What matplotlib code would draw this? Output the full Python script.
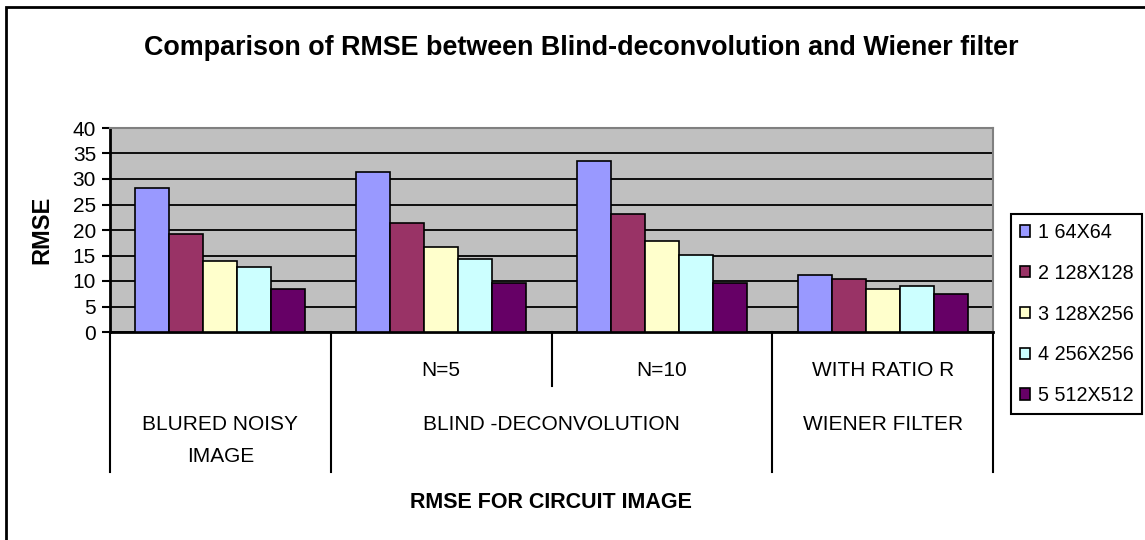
import numpy as np
import matplotlib
matplotlib.use("Agg")
from matplotlib import pyplot as plt
from matplotlib.patches import Rectangle
from matplotlib.transforms import blended_transform_factory

# ---------- Data ---------- #
series_names = ["1 64X64", "2 128X128", "3 128X256", "4 256X256", "5 512X512"]
inner_labels = ["", "N=5", "N=10", "WITH RATIO R"]
outer_labels = ["BLURED NOISY\nIMAGE", "BLIND -DECONVOLUTION", "WIENER FILTER"]
outer_spans = [(0, 0), (1, 2), (3, 3)]   # group index range covered by each outer label

size_64 = [28.3, 31.4, 33.6, 11.2]
size_128 = [19.3, 21.3, 23.2, 10.4]
size_128x256 = [13.9, 16.7, 17.9, 8.4]
size_256 = [12.7, 14.3, 15.1, 9.0]
size_512 = [8.5, 9.6, 9.6, 7.4]
values = [size_64, size_128, size_128x256, size_256, size_512]

colors = ["#9999FF", "#993366", "#FFFFCC", "#CCFFFF", "#660066"]

# ---------- Plotting ---------- #
plt.rcParams['font.family'] = ['Liberation Sans', 'DejaVu Sans']

fig = plt.figure(figsize=(11.45, 5.4), dpi=100)
ax = fig.add_axes([110/1145, 1-332/540, 883/1145, 204/540])
ax.set_facecolor("#C0C0C0")

n_groups = len(inner_labels)
n_series = len(series_names)
bar_w = 1.0 / (n_series + 1.5)
x = np.arange(n_groups)

for i in range(n_series):
    offset = (i - (n_series - 1) / 2) * bar_w
    ax.bar(x + offset, values[i], bar_w, color=colors[i], edgecolor="black",
           linewidth=1.2, label=series_names[i], zorder=3)

ax.set_xlim(-0.5, n_groups - 0.5)
ax.set_ylim(0, 40)
ax.set_yticks(np.arange(0, 41, 5))
ax.tick_params(axis='y', labelsize=15, length=6, width=1.5, direction='out', pad=4)
ax.set_xticks([])
ax.yaxis.grid(True, color="black", linewidth=1.3, zorder=1)
ax.set_axisbelow(True)

ax.spines['left'].set_linewidth(2)
ax.spines['bottom'].set_linewidth(2)
ax.spines['top'].set_color("#808080")
ax.spines['right'].set_color("#808080")
ax.spines['top'].set_linewidth(1.5)
ax.spines['right'].set_linewidth(1.5)

ax.set_ylabel("RMSE", fontsize=17, fontweight='bold')
ax.yaxis.set_label_coords(-0.064, 0.5)

# multi-level category axis
trans = blended_transform_factory(ax.transData, ax.transAxes)
long_y = -140/204
short_y = -54/204
for b in np.arange(-0.5, n_groups, 1.0):
    inside = any(s < b + 0.5 <= e for s, e in outer_spans)
    y_end = short_y if inside else long_y
    ax.plot([b, b], [0, y_end], color="black", lw=1.5, transform=trans, clip_on=False)

for i, lab in enumerate(inner_labels):
    ax.text(x[i], -38/204, lab, transform=trans, ha='center', va='center', fontsize=15)

for lab, (s, e) in zip(outer_labels, outer_spans):
    ax.text((s + e) / 2, -83/204, lab, transform=trans, ha='center', va='top',
            fontsize=15, linespacing=1.85)

fig.text(551/1145, 1-502/540, "RMSE FOR CIRCUIT IMAGE", ha='center', va='center',
         fontsize=15.5, fontweight='bold')
fig.text(581/1145, 1-48/540, "Comparison of RMSE between Blind-deconvolution and Wiener filter",
         ha='center', va='center', fontsize=19.4, fontweight='bold')

leg = fig.legend(loc='center left', bbox_to_anchor=(1011/1145, 1-314/540), fontsize=14.2,
                 handlelength=0.5, handleheight=0.5, handletextpad=0.4, labelspacing=1.1,
                 borderpad=0.45, fancybox=False, framealpha=1, edgecolor="black", borderaxespad=0)
leg.get_frame().set_linewidth(1.5)

# outer chart border
fig.add_artist(Rectangle((6/1145, -0.1), 1.2, 1.1 - 7/540, transform=fig.transFigure,
                         fill=False, edgecolor="black", linewidth=2))

fig.savefig("out.png", dpi=100)
